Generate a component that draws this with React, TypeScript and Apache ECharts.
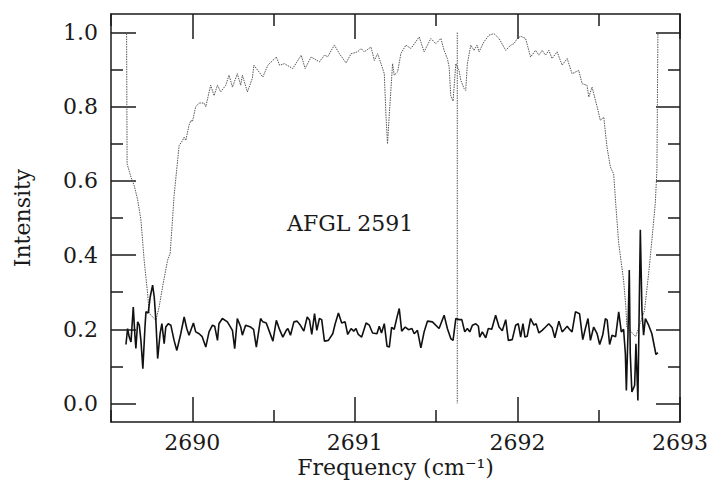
import React, { useEffect, useRef } from "react";
import * as echarts from "echarts";

// Dotted grey spectrum (AFGL 2591)
const specFreq = [
  2689.596, 2689.599, 2689.623, 2689.643, 2689.664, 2689.684, 2689.704, 2689.725, 2689.735, 2689.776,
  2689.796, 2689.817, 2689.848, 2689.864, 2689.879, 2689.888, 2689.919, 2689.94, 2689.95, 2689.96,
  2689.98, 2689.991, 2690.001, 2690.021, 2690.042, 2690.072, 2690.083, 2690.113, 2690.134, 2690.155,
  2690.175, 2690.206, 2690.226, 2690.247, 2690.277, 2690.298, 2690.308, 2690.339, 2690.369, 2690.379,
  2690.41, 2690.434, 2690.465, 2690.517, 2690.537, 2690.567, 2690.618, 2690.67, 2690.694, 2690.731,
  2690.782, 2690.813, 2690.833, 2690.874, 2690.905, 2690.946, 2690.977, 2691.017, 2691.038, 2691.058,
  2691.099, 2691.12, 2691.14, 2691.161, 2691.181, 2691.191, 2691.201, 2691.212, 2691.232, 2691.242,
  2691.263, 2691.283, 2691.314, 2691.345, 2691.396, 2691.426, 2691.467, 2691.498, 2691.529, 2691.549,
  2691.569, 2691.58, 2691.59, 2691.604, 2691.621, 2691.641, 2691.652, 2691.672, 2691.682, 2691.692,
  2691.713, 2691.733, 2691.752, 2691.764, 2691.794, 2691.825, 2691.856, 2691.887, 2691.928, 2691.958,
  2691.979, 2691.999, 2692.02, 2692.05, 2692.081, 2692.112, 2692.132, 2692.152, 2692.173, 2692.193,
  2692.213, 2692.244, 2692.275, 2692.306, 2692.336, 2692.377, 2692.398, 2692.428, 2692.439, 2692.459,
  2692.49, 2692.51, 2692.531, 2692.551, 2692.572, 2692.592, 2692.606, 2692.623, 2692.653, 2692.667,
  2692.673, 2692.727, 2692.782, 2692.807, 2692.827, 2692.848, 2692.858, 2692.864,
];
const specVal = [
  0.997, 0.646, 0.61, 0.587, 0.549, 0.495, 0.386, 0.297, 0.243, 0.224,
  0.26, 0.314, 0.386, 0.405, 0.5, 0.56, 0.695, 0.709, 0.718, 0.709,
  0.75, 0.763, 0.76, 0.8, 0.81, 0.81, 0.8, 0.858, 0.83, 0.858,
  0.84, 0.858, 0.885, 0.853, 0.889, 0.858, 0.885, 0.84, 0.876, 0.912,
  0.894, 0.88, 0.912, 0.934, 0.912, 0.916, 0.903, 0.939, 0.903, 0.934,
  0.921, 0.939, 0.935, 0.966, 0.943, 0.918, 0.943, 0.948, 0.957, 0.948,
  0.961, 0.925, 0.943, 0.916, 0.889, 0.78, 0.7, 0.78, 0.916, 0.885,
  0.894, 0.943, 0.966, 0.957, 0.988, 0.948, 0.984, 0.97, 0.984, 0.952,
  0.93, 0.907, 0.83, 0.815, 0.916, 0.898, 0.871, 0.849, 0.844, 0.916,
  0.966, 0.952, 0.966, 0.948, 0.975, 0.993, 0.997, 0.984, 0.952, 0.966,
  0.97, 0.984, 0.99, 0.984, 0.934, 0.952, 0.939, 0.952, 0.939, 0.952,
  0.93, 0.948, 0.912, 0.93, 0.889, 0.898, 0.862, 0.858, 0.826, 0.853,
  0.8, 0.763, 0.772, 0.691, 0.637, 0.619, 0.53, 0.432, 0.332, 0.26,
  0.206, 0.18, 0.251, 0.35, 0.44, 0.54, 0.628, 0.997,
];

// Vertical dotted marker line
const markerFreq = [2691.63, 2691.63];
const markerVal = [1.0, 0.0];

// Solid black noisy trace
const resFreq = [
  2689.592, 2689.602, 2689.612, 2689.623, 2689.637, 2689.647, 2689.653, 2689.664, 2689.674, 2689.684,
  2689.696, 2689.709, 2689.715, 2689.729, 2689.741, 2689.756, 2689.766, 2689.776, 2689.787, 2689.802,
  2689.813, 2689.827, 2689.837, 2689.852, 2689.868, 2689.888, 2689.905, 2689.929, 2689.95, 2689.966,
  2689.98, 2690.007, 2690.021, 2690.042, 2690.061, 2690.083, 2690.103, 2690.124, 2690.138, 2690.155,
  2690.164, 2690.185, 2690.216, 2690.247, 2690.261, 2690.277, 2690.298, 2690.308, 2690.328, 2690.359,
  2690.377, 2690.394, 2690.42, 2690.434, 2690.455, 2690.475, 2690.496, 2690.517, 2690.537, 2690.557,
  2690.578, 2690.588, 2690.604, 2690.625, 2690.645, 2690.666, 2690.686, 2690.707, 2690.721, 2690.735,
  2690.752, 2690.766, 2690.782, 2690.796, 2690.813, 2690.837, 2690.864, 2690.879, 2690.899, 2690.919,
  2690.94, 2690.956, 2690.977, 2690.993, 2691.007, 2691.021, 2691.042, 2691.069, 2691.089, 2691.109,
  2691.136, 2691.15, 2691.164, 2691.181, 2691.198, 2691.212, 2691.226, 2691.242, 2691.259, 2691.273,
  2691.288, 2691.31, 2691.33, 2691.351, 2691.365, 2691.385, 2691.406, 2691.426, 2691.447, 2691.477,
  2691.518, 2691.549, 2691.569, 2691.59, 2691.604, 2691.621, 2691.641, 2691.658, 2691.676, 2691.692,
  2691.707, 2691.723, 2691.744, 2691.76, 2691.768, 2691.784, 2691.805, 2691.821, 2691.842, 2691.866,
  2691.887, 2691.907, 2691.928, 2691.944, 2691.968, 2691.989, 2692.005, 2692.02, 2692.034, 2692.046,
  2692.06, 2692.081, 2692.101, 2692.115, 2692.132, 2692.152, 2692.173, 2692.193, 2692.213, 2692.23,
  2692.255, 2692.275, 2692.29, 2692.306, 2692.32, 2692.336, 2692.357, 2692.382, 2692.402, 2692.418,
  2692.434, 2692.449, 2692.469, 2692.49, 2692.506, 2692.525, 2692.541, 2692.552, 2692.567, 2692.582,
  2692.604, 2692.623, 2692.639, 2692.653, 2692.664, 2692.67, 2692.68, 2692.688, 2692.694, 2692.704,
  2692.721, 2692.729, 2692.741, 2692.756, 2692.766, 2692.776, 2692.787, 2692.807, 2692.827, 2692.852,
  2692.864,
];
const resVal = [
  0.159, 0.202, 0.179, 0.166, 0.26, 0.184, 0.148, 0.22, 0.211, 0.17,
  0.094, 0.206, 0.247, 0.244, 0.287, 0.319, 0.287, 0.224, 0.121, 0.188,
  0.215, 0.161, 0.206, 0.215, 0.211, 0.17, 0.143, 0.188, 0.233, 0.202,
  0.184, 0.217, 0.193, 0.188, 0.18, 0.152, 0.193, 0.211, 0.208, 0.17,
  0.215, 0.229, 0.22, 0.197, 0.148, 0.229, 0.206, 0.184, 0.211, 0.206,
  0.2, 0.152, 0.229, 0.22, 0.217, 0.193, 0.168, 0.224, 0.199, 0.179,
  0.197, 0.202, 0.184, 0.22, 0.222, 0.21, 0.195, 0.233, 0.225, 0.186,
  0.242, 0.197, 0.229, 0.226, 0.168, 0.17, 0.188, 0.215, 0.244, 0.217,
  0.22, 0.186, 0.202, 0.195, 0.202, 0.186, 0.179, 0.217, 0.211, 0.19,
  0.188, 0.208, 0.19, 0.215, 0.154, 0.152, 0.205, 0.2, 0.232, 0.256,
  0.195, 0.206, 0.199, 0.202, 0.188, 0.197, 0.15, 0.193, 0.222, 0.22,
  0.202, 0.238, 0.202, 0.175, 0.17, 0.229, 0.226, 0.226, 0.193, 0.202,
  0.193, 0.211, 0.215, 0.208, 0.179, 0.193, 0.177, 0.202, 0.2, 0.238,
  0.206, 0.196, 0.226, 0.17, 0.172, 0.211, 0.215, 0.179, 0.215, 0.179,
  0.181, 0.229, 0.211, 0.215, 0.19, 0.197, 0.206, 0.215, 0.205, 0.177,
  0.222, 0.193, 0.2, 0.208, 0.2, 0.193, 0.247, 0.242, 0.172, 0.202,
  0.229, 0.17, 0.206, 0.188, 0.159, 0.185, 0.229, 0.225, 0.159, 0.184,
  0.18, 0.247, 0.193, 0.2, 0.134, 0.035, 0.188, 0.36, 0.134, 0.031,
  0.049, 0.161, 0.008, 0.468, 0.25, 0.184, 0.229, 0.211, 0.188, 0.132,
  0.137,
];

const xMajor = [2690, 2691, 2692, 2693];
const xMinor = [2689.5, 2690.5, 2691.5, 2692.5];
const yMajor = [0, 0.2, 0.4, 0.6, 0.8, 1.0];
const yMinor = [0.1, 0.3, 0.5, 0.7, 0.9];

const FONT = "DejaVu Serif";
const INK = "#1a1a1a";

export default function App() {
  const ref = useRef<HTMLDivElement>(null);
  useEffect(() => {
    if (!ref.current) return;
    const chart = echarts.init(ref.current, undefined, { renderer: "svg" });
    const X_MIN = 2689.5, X_MAX = 2693, Y_MIN = -0.05, Y_MAX = 1.05;
    const frameLine = { show: true, onZero: false, lineStyle: { color: INK, width: 1.5 } };
    const mkX = (position: string, values: number[], len: number, labels: boolean, line: boolean, extra: any = {}) => ({
      type: "value",
      position,
      min: X_MIN,
      max: X_MAX,
      axisLine: line ? frameLine : { show: false, onZero: false },
      axisTick: { show: true, inside: true, length: len, customValues: values, lineStyle: { color: INK, width: 1.5 } },
      axisLabel: labels
        ? { show: true, customValues: xMajor, formatter: (v: number) => String(Math.round(v)), fontFamily: FONT, fontSize: 22, color: INK, margin: 9 }
        : { show: false },
      splitLine: { show: false },
      ...extra,
    });
    const mkY = (position: string, values: number[], len: number, labels: boolean, line: boolean, extra: any = {}) => ({
      type: "value",
      position,
      min: Y_MIN,
      max: Y_MAX,
      axisLine: line ? frameLine : { show: false, onZero: false },
      axisTick: { show: true, inside: true, length: len, customValues: values, lineStyle: { color: INK, width: 1.5 } },
      axisLabel: labels
        ? { show: true, customValues: yMajor, formatter: (v: number) => v.toFixed(1), fontFamily: FONT, fontSize: 22, color: INK, margin: 13 }
        : { show: false },
      splitLine: { show: false },
      ...extra,
    });
    const option: any = {
      animation: false,
      backgroundColor: "#ffffff",
      grid: { left: 111, right: 30, top: 14, bottom: 61, outerBoundsMode: "none" },
      xAxis: [
        mkX("bottom", xMajor, 25, true, true, {
          name: "Frequency (cm\u207B\u00B9)",
          nameLocation: "middle",
          nameGap: 34,
          nameMoveOverlap: false,
          nameTextStyle: { fontFamily: FONT, fontSize: 22, color: INK, verticalAlign: "top" },
        }),
        mkX("bottom", xMinor, 12, false, false),
        mkX("top", xMajor, 25, false, true),
        mkX("top", xMinor, 12, false, false),
      ],
      yAxis: [
        mkY("left", yMajor, 25, true, true, {
          name: "Intensity",
          nameLocation: "middle",
          nameGap: 78,
          nameMoveOverlap: false,
          nameTextStyle: { fontFamily: FONT, fontSize: 22, color: INK },
        }),
        mkY("left", yMinor, 12, false, false),
        mkY("right", yMajor, 24, false, true),
        mkY("right", yMinor, 12, false, false),
      ],
      series: [
        {
          type: "line",
          xAxisIndex: 0,
          yAxisIndex: 0,
          data: specFreq.map((f, i) => [f, specVal[i]]),
          symbol: "none",
          lineStyle: { color: "#555", width: 1, type: [1.5, 1] },
          z: 2,
        },
        {
          type: "line",
          xAxisIndex: 0,
          yAxisIndex: 0,
          data: markerFreq.map((f, i) => [f, markerVal[i]]),
          symbol: "none",
          lineStyle: { color: "#555", width: 1, type: [1.5, 1] },
          z: 2,
        },
        {
          type: "line",
          xAxisIndex: 0,
          yAxisIndex: 0,
          data: resFreq.map((f, i) => [f, resVal[i]]),
          symbol: "none",
          lineStyle: { color: "#111", width: 1.6 },
          z: 3,
        },
      ],
      graphic: [
        {
          type: "text",
          x: 287,
          y: 212,
          style: { text: "AFGL 2591", fontFamily: FONT, fontSize: 22, fill: INK },
        },
      ],
    };
    chart.setOption(option);
    return () => chart.dispose();
  }, []);
  return <div ref={ref} style={{ position: "fixed", left: 0, top: 0, width: 710, height: 483, background: "#fff" }} />;
}
